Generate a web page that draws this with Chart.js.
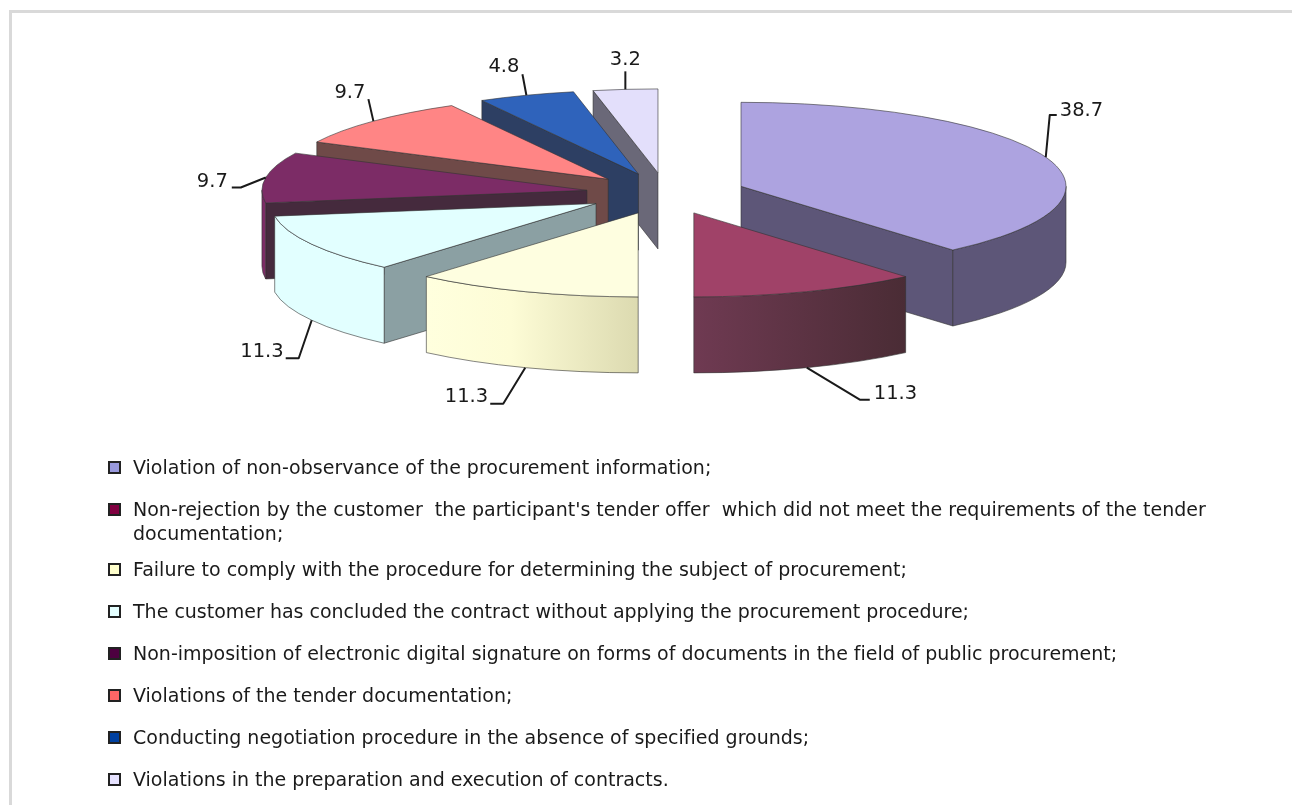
<!DOCTYPE html>
<html>
<head>
<meta charset="utf-8">
<title>Procurement violations</title>
<script src="https://cdn.jsdelivr.net/npm/chart.js@4/dist/chart.umd.min.js"></script>
<style>
    html, body { margin: 0; padding: 0; background: #fff; overflow: hidden; }
    #frame { position: absolute; left: 9px; top: 10px; width: 1283px; height: 795px; box-sizing: border-box;
        border-top: 3px solid #d9d9d9; border-left: 3px solid #d9d9d9; }
    #plasticPie { position: absolute; left: 0; top: 0; filter: blur(0.35px); }
    #legend { position: absolute; left: 108px; top: 455px; width: 1110px; margin: 0; padding: 0; list-style: none;
        font: 19px/24px "DejaVu Sans", sans-serif; font-variant-ligatures: none; color: #1a1a1a; filter: blur(0.35px); }
    #legend li { position: relative; padding-left: 25px; margin-bottom: 18px; white-space: pre-wrap; }
    #legend li.wrapped { margin-bottom: 12px; }
    #legend i { position: absolute; left: 0; top: 6px; width: 13px; height: 13px; box-sizing: border-box;
        border: 2px solid #222; }
</style>
</head>
<body>
<div id="frame"></div>
<canvas id="plasticPie" width="1292" height="805"></canvas>
<ul id="legend"></ul>
<script>
"use strict";

const categories = [
    "Violation of non-observance of the procurement information;",
    "Non-rejection by the customer  the participant's tender offer  which did not meet the requirements of the tender documentation;",
    "Failure to comply with the procedure for determining the subject of procurement;",
    "The customer has concluded the contract without applying the procurement procedure;",
    "Non-imposition of electronic digital signature on forms of documents in the field of public procurement;",
    "Violations of the tender documentation;",
    "Conducting negotiation procedure in the absence of specified grounds;",
    "Violations in the preparation and execution of contracts."
];
const values = [38.7, 11.3, 11.3, 11.3, 9.7, 9.7, 4.8, 3.2];

const topColors = ["#ada3e0", "#a04268", "#fefee0", "#e2ffff", "#7c2c66", "#ff8585", "#2f63bb", "#e3dffb"];
const legendColors = ["#9999dd", "#800040", "#ffffcc", "#e4ffff", "#4d0040", "#ff6666", "#0040a0", "#e6e2ff"];
const cutColors = ["#5d5678", "#4a2c35", "#dcdab0", "#8ba0a3", "#452a3d", "#6f4a48", "#2d3f63", "#6a6878"];
const wallStops = [
    [[0, "#5d5678"], [1, "#5d5678"]],
    [[0, "#6f3a52"], [1, "#4a2c35"]],
    [[0, "#ffffde"], [0.4, "#fdfcd6"], [1, "#dcdab0"]],
    [[0, "#e2ffff"], [1, "#e2ffff"]],
    [[0, "#7c2c66"], [1, "#7c2c66"]],
    [[0, "#ff8585"], [1, "#ff8585"]],
    [[0, "#2f63bb"], [1, "#2f63bb"]],
    [[0, "#e3dffb"], [1, "#e3dffb"]]
];

// back to front
const drawOrder = [0, 7, 6, 5, 4, 3, 2, 1];

const tilt = 84 / 325;
const explode = 80;
const depth = 76;

// leader line per slice, relative to where it leaves the pie: points, then text anchor
const leaders = [
    {pts: [[4, -42], [11, -42]], text: [14, -41], align: "left"},
    {pts: [[53, 32], [63, 32]], text: [67, 31], align: "left"},
    {pts: [[-22, 36], [-35, 36]], text: [-37, 34], align: "right"},
    {pts: [[-13, 38], [-26, 38]], text: [-28, 37], align: "right"},
    {pts: [[-25, 10], [-34, 10]], text: [-38, 10], align: "right"},
    {pts: [[-5, -22]], text: [-8, -23], align: "right"},
    {pts: [[-4, -21]], text: [-7, -23], align: "right"},
    {pts: [[0, -18]], text: [0, -24], align: "center"}
];

function drawSlice(ctx, arc, i) {
    const a0 = arc.startAngle, a1 = arc.endAngle, mid = (a0 + a1) / 2;
    const R = arc.outerRadius;
    const ax = arc.x + Math.cos(mid) * explode;
    const ay = arc.y + Math.sin(mid) * explode * tilt;
    const rim = a => [ax + R * Math.cos(a), ay + R * tilt * Math.sin(a)];

    ctx.lineWidth = 0.8;
    ctx.strokeStyle = "rgba(50,50,50,0.75)";
    ctx.lineJoin = "round";

    // flat cut faces, only the ones turned to the viewer
    [[a0, -Math.cos(a0)], [a1, Math.cos(a1)]].forEach(([a, facing]) => {
        if (facing <= 0.001) return;
        const p = rim(a);
        ctx.beginPath();
        ctx.moveTo(ax, ay);
        ctx.lineTo(p[0], p[1]);
        ctx.lineTo(p[0], p[1] + depth);
        ctx.lineTo(ax, ay + depth);
        ctx.closePath();
        ctx.fillStyle = cutColors[i];
        ctx.fill();
        ctx.stroke();
    });

    // outer wall, front half of the rim only
    const from = Math.max(a0, 0), to = Math.min(a1, Math.PI);
    const from2 = a0 + 2 * Math.PI, to2 = a1 + 2 * Math.PI;
    const w0 = to > from ? from : Math.max(from2, 0), w1 = to > from ? to : Math.min(to2, Math.PI);
    if (w1 > w0) {
        const xs = [rim(w0)[0], rim(w1)[0]];
        const g = ctx.createLinearGradient(Math.min(...xs), 0, Math.max(...xs), 0);
        wallStops[i].forEach(s => g.addColorStop(s[0], s[1]));
        ctx.beginPath();
        ctx.ellipse(ax, ay, R, R * tilt, 0, w0, w1);
        ctx.ellipse(ax, ay + depth, R, R * tilt, 0, w1, w0, true);
        ctx.closePath();
        ctx.fillStyle = g;
        ctx.fill();
        ctx.stroke();
    }

    // the top itself is the library's arc, squashed and moved out
    ctx.save();
    ctx.translate(ax, ay);
    ctx.scale(1, tilt);
    ctx.translate(-arc.x, -arc.y);
    arc.draw(ctx);
    ctx.restore();

    ctx.beginPath();
    ctx.moveTo(ax, ay);
    ctx.ellipse(ax, ay, R, R * tilt, 0, a0, a1);
    ctx.closePath();
    ctx.stroke();
}

function drawLabel(ctx, arc, i) {
    const mid = (arc.startAngle + arc.endAngle) / 2;
    const ax = arc.x + Math.cos(mid) * explode;
    const ay = arc.y + Math.sin(mid) * explode * tilt;
    const sx = ax + arc.outerRadius * Math.cos(mid);
    const sy = ay + arc.outerRadius * tilt * Math.sin(mid) + (Math.sin(mid) > 0.3 ? depth : 0);
    const l = leaders[i];

    ctx.beginPath();
    ctx.moveTo(sx, sy);
    l.pts.forEach(p => ctx.lineTo(sx + p[0], sy + p[1]));
    ctx.lineWidth = 2;
    ctx.strokeStyle = "#1a1a1a";
    ctx.stroke();

    ctx.fillStyle = "#1a1a1a";
    ctx.font = '19.5px "DejaVu Sans", sans-serif';
    ctx.textAlign = l.align;
    ctx.textBaseline = "alphabetic";
    ctx.fillText(values[i].toFixed(1), sx + l.text[0], sy + l.text[1]);
}

const exploded3d = {
    id: "exploded3d",
    beforeDatasetsDraw(chart) {
        const ctx = chart.ctx;
        const arcs = chart.getDatasetMeta(0).data;
        drawOrder.forEach(i => drawSlice(ctx, arcs[i], i));
        arcs.forEach((arc, i) => drawLabel(ctx, arc, i));
        return false;
    }
};

new Chart(document.getElementById("plasticPie"), {
    type: "pie",
    data: {
        labels: categories,
        datasets: [{
            data: values,
            backgroundColor: topColors,
            borderWidth: 0,
            radius: 325
        }]
    },
    options: {
        responsive: false,
        animation: false,
        layout: {padding: {left: 40, bottom: 418}},
        plugins: {legend: {display: false}, tooltip: {enabled: false}}
    },
    plugins: [exploded3d]
});

const legend = document.getElementById("legend");
categories.forEach((name, i) => {
    const li = document.createElement("li");
    if (name.length > 110) li.className = "wrapped";
    const box = document.createElement("i");
    box.style.background = legendColors[i];
    li.appendChild(box);
    li.appendChild(document.createTextNode(name));
    legend.appendChild(li);
});
</script>
</body>
</html>
